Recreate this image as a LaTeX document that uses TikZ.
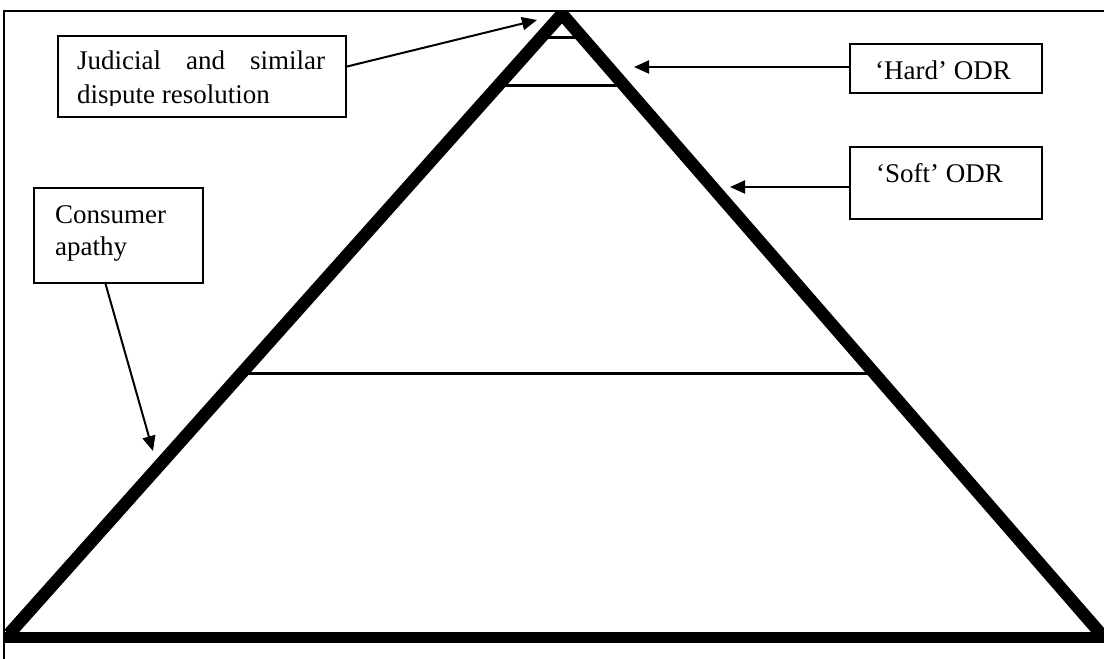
\documentclass[tikz,border=0pt]{standalone}
\usepackage{fontspec}
\setmainfont{Liberation Serif}
\usetikzlibrary{arrows.meta}
\begin{document}
\begin{tikzpicture}[x=1pt,y=-1pt,
  box/.style={draw,line width=2pt,fill=white,anchor=north west,inner sep=0pt},
  lbl/.style={font=\fontsize{27}{33}\selectfont,anchor=base west,inner sep=0pt},
  arr/.style={line width=2pt,-{Triangle[length=15pt,width=13pt]}},
  side/.style={line width=12.5pt},
  level/.style={line width=3pt}]
\useasboundingbox (0,0) rectangle (1104,659);
% triangle
\coordinate (apex) at (562,14);
\coordinate (bl) at (9,634);
\coordinate (br) at (1101,634);
\begin{scope}
\clip (0,11) rectangle (1104,659);
\draw[side,line join=miter] (bl) -- (apex) -- (br);
\end{scope}
% frame
\draw[line width=2.5pt] (4,659) -- (4,11) -- (1104,11);
\draw[line width=11pt] (4,637.5) -- (1104,637.5);
% levels
\draw[level] (543,37) -- (581,37);
\draw[level] (497,85) -- (619,85);
\draw[level] (246,373) -- (876,373);
% Judicial box
\node[box,minimum width=288pt,minimum height=81pt] (jud) at (57,35) {};
\begin{scope}
\clip (57,35) rectangle (345,105);
\node[lbl] (judt1) at (77,69) {\makebox[248pt][s]{Judicial and similar}};
\node[lbl] (judt2) at (77,103) {dispute resolution};
\end{scope}
% Hard
\node[box,minimum width=192pt,minimum height=49pt] (hard) at (849,43) {};
\node[lbl] (hardt) at (875,79) {‘Hard’ ODR};
% Soft
\node[box,minimum width=192pt,minimum height=72pt] (soft) at (849,146) {};
\node[lbl] (softt) at (876,182) {‘Soft’ ODR};
% Consumer
\node[box,minimum width=169pt,minimum height=95pt] (cons) at (33,187) {};
\node[lbl] (const1) at (55,223) {Consumer};
\node[lbl] (const2) at (55,255) {apathy};
% arrows
\coordinate (t1) at (537,20);
\coordinate (t2) at (634,67);
\coordinate (t3) at (730,187);
\coordinate (t4) at (153,451);
\coordinate (s1) at (345,67);
\coordinate (s4) at (105,282);
\draw[arr] (s1) -- (t1);
\draw[arr] (hard.west |- t2) -- (t2);
\draw[arr] (soft.west |- t3) -- (t3);
\draw[arr] (s4) -- (t4);
\end{tikzpicture}
\end{document}
